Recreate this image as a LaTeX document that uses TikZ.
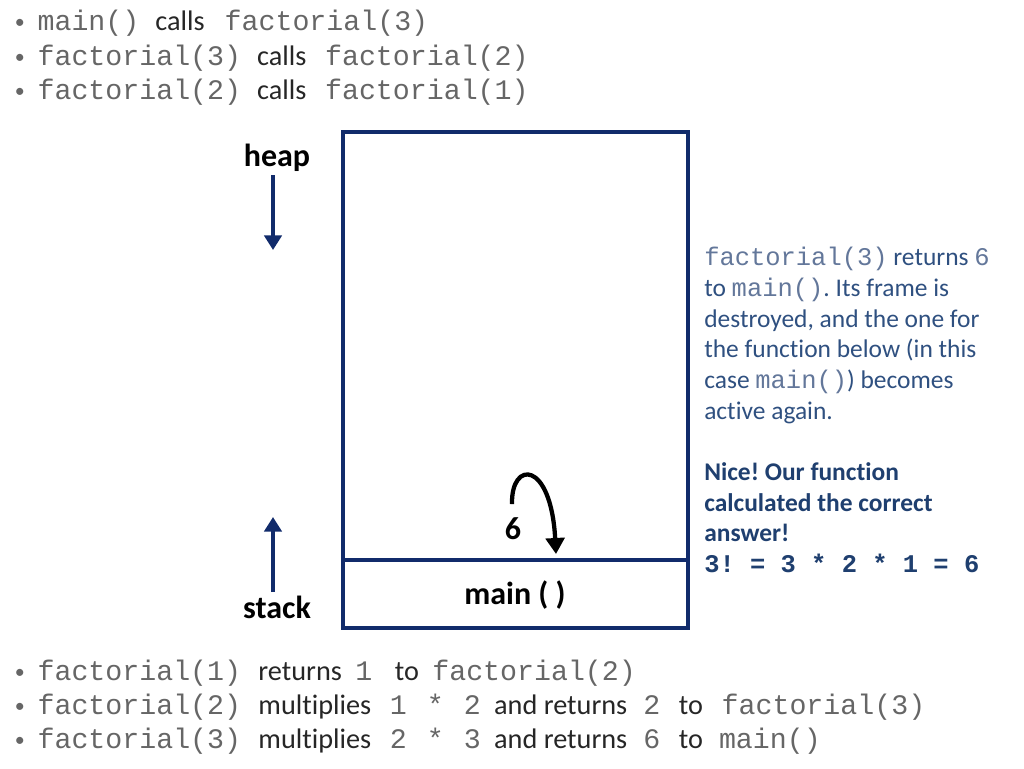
\documentclass[tikz,border=0pt]{standalone}
\usepackage{fontspec}
\setmainfont{Carlito}[Ligatures=NoCommon]
\setmonofont{Liberation Mono}
\usetikzlibrary{arrows.meta}

\definecolor{framenavy}{HTML}{112B6B}
\definecolor{codegray}{HTML}{666666}
\definecolor{wordgray}{HTML}{262626}
\definecolor{notetext}{HTML}{2F5080}
\definecolor{notecode}{HTML}{63779A}
\definecolor{notebold}{HTML}{1F3F6F}

\newcommand{\fcode}[1]{{\ttfamily\color{codegray}#1}}
\newcommand{\ncode}[1]{{\ttfamily\color{notecode}#1}}
\newcommand{\bul}{\makebox[19pt][l]{\hspace{2pt}\raisebox{1pt}{\color{codegray}\fontsize{15}{15}\selectfont\textbullet}}}
\newcommand{\sk}{\hspace{14pt}}
\frenchspacing

\begin{document}
\begin{tikzpicture}
        [x=0.75pt, y=-0.75pt,
        framestyle/.style={draw=framenavy, line width=3.6pt},
        growarrow/.style={draw=framenavy, line width=3pt, -{Triangle[length=11pt,width=13pt]}},
        boldword/.style={inner sep=0pt, font=\fontsize{24}{28}\selectfont\bfseries},
        bulletline/.style={anchor=base west, inner sep=0pt, text=wordgray, font=\fontsize{21.2}{25}\selectfont},
        notebox/.style={anchor=north west, inner sep=0pt, align=left, text=notetext, font=\fontsize{19.1}{23}\selectfont}]

        \useasboundingbox (0,0) rectangle (1024,768);

        % calls going up
        \node[bulletline] (callA) at (12,30) {\bul\fcode{main()}\hspace{12pt}calls\hspace{15pt}\fcode{factorial(3)}};
        \node[bulletline] (callB) at (12,65) {\bul\fcode{factorial(3)}\hspace{12pt}calls\sk\fcode{factorial(2)}};
        \node[bulletline] (callC) at (12,99) {\bul\fcode{factorial(2)}\hspace{12pt}calls\sk\fcode{factorial(1)}};

        % memory
        \coordinate (boxnw) at (343,132);
        \coordinate (boxse) at (688,628);
        \coordinate (framew) at (343,560);
        \coordinate (framee) at (688,560);
        \draw[framestyle] (boxnw) rectangle (boxse);
        \draw[framestyle] (framew) -- (framee);

        \node[boldword] (heap) at (277,158) {heap};
        \node[boldword] (stack) at (277,607) {stack};
        \node[boldword] (mainframe) at (515,595) {main ( )};
        \node[boldword] (six) at (513,529) {6};

        \coordinate (heaptop) at (273,175);
        \coordinate (heapend) at (273,250);
        \coordinate (stackbot) at (273,592);
        \coordinate (stackend) at (273,517);
        \draw[growarrow] (heaptop) -- (heapend);
        \draw[growarrow] (stackbot) -- (stackend);

        \coordinate (retstart) at (512,504);
        \coordinate (retend) at (556,554);
        \draw[line width=3.2pt, -{Triangle[length=12pt,width=14pt]}]
            (retstart) .. controls (511,460) and (551,460) .. (retend);

        \node[notebox] (note) at (704,247) {%
            \ncode{factorial(3)} returns \ncode{6}\\
            to \ncode{main()}. Its frame is\\
            destroyed, and the one for\\
            the function below (in this\\
            case \ncode{main()}) becomes\\
            active again.\\[23pt]
            {\color{notebold}\bfseries Nice! Our function}\\
            {\color{notebold}\bfseries calculated the correct}\\
            {\color{notebold}\bfseries answer!}\\
            {\color{notebold}\ttfamily\bfseries 3! = 3 * 2 * 1 = 6}};

        % returns going down
        \node[bulletline] (retA) at (12,680) {\bul\fcode{factorial(1)}\hspace{13pt}returns\hspace{10pt}\fcode{1}\hspace{17pt}to\hspace{10pt}\fcode{factorial(2)}};
        \node[bulletline] (retB) at (12,714) {\bul\fcode{factorial(2)}\hspace{13pt}multiplies\sk\fcode{1}\hspace{15pt}\fcode{*}\hspace{15pt}\fcode{2}\hspace{10pt}and returns\hspace{12pt}\fcode{2}\sk to\sk\fcode{factorial(3)}};
        \node[bulletline] (retC) at (12,748) {\bul\fcode{factorial(3)}\hspace{13pt}multiplies\sk\fcode{2}\hspace{15pt}\fcode{*}\hspace{15pt}\fcode{3}\hspace{10pt}and returns\hspace{12pt}\fcode{6}\sk to\hspace{12pt}\fcode{main()}};

    \end{tikzpicture}
\end{document}
